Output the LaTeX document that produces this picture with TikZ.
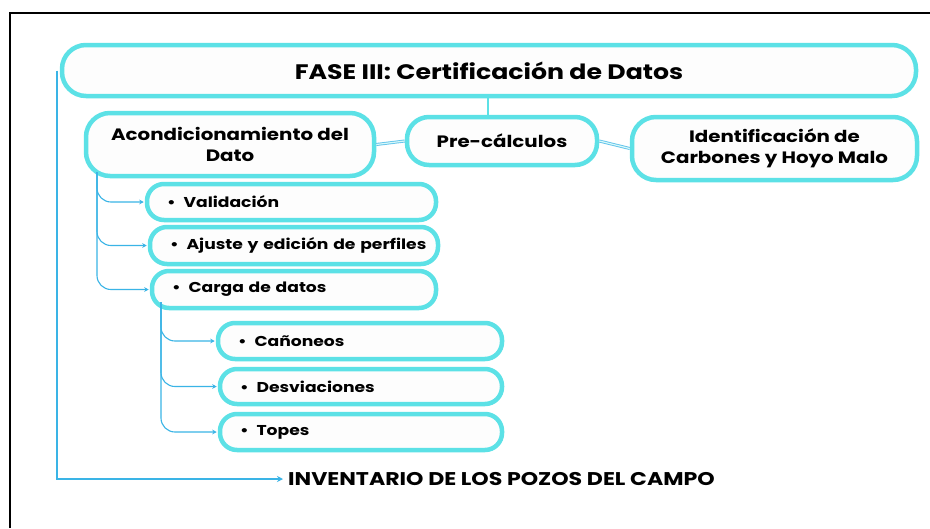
\documentclass[tikz,border=0pt]{standalone}
\usepackage{fontspec}
\setmainfont{Poppins}[FakeStretch=1.2]
\usetikzlibrary{arrows.meta}
\definecolor{boxcyan}{HTML}{5CE1E6}
\definecolor{linkblue}{HTML}{3AB4E6}
\definecolor{fillw}{HTML}{FDFDFD}
\tikzset{
  box/.style={draw=boxcyan, line width=4.5pt, fill=fillw, rounded corners=24pt,
    inner sep=0pt, font=\fontsize{16.5}{21}\selectfont\bfseries, align=center},
  item/.style={draw=boxcyan, line width=4.5pt, fill=fillw, rounded corners=17pt,
    inner sep=0pt, font=\fontsize{14.3}{17}\selectfont\bfseries, align=left},
  conn/.style={draw=linkblue, line width=1.1pt, rounded corners=14pt,
    -{Stealth[length=4.5pt,width=4.5pt]}},
  dbl/.style={draw=linkblue!80, double=boxcyan!25, double distance=1.2pt, line width=0.9pt},
}
\newcommand{\bul}[1]{\mbox{\textbullet\hspace{8pt}#1}}
\begin{document}
\begin{tikzpicture}[x=1pt,y=-1pt]
\useasboundingbox (0,0) rectangle (930,528);
\fill[white] (0,0) rectangle (930,528);
\draw[line width=2pt, black] (10,528) -- (10,13) -- (931,13);

\node[box, minimum width=854pt, minimum height=51pt, rounded corners=24pt,
  font=\fontsize{21}{25}\selectfont\bfseries] (fase) at (489,70.5) {FASE III: Certificación de Datos};
\node[box, minimum width=288pt, minimum height=63pt] (acond) at (230,144.5) {Acondicionamiento del\\Dato};
\node[box, minimum width=190pt, minimum height=48pt, rounded corners=22pt] (pre) at (502,141) {Pre-cálculos};
\node[box, minimum width=285pt, minimum height=63pt] (ident) at (774.5,148.5) {Identificación de\\Carbones y Hoyo Malo};

\node[item, minimum width=289pt, minimum height=36pt, text width=249pt] (val) at (291.5,202) {\bul{Validación}};
\node[item, minimum width=288pt, minimum height=37pt, text width=248pt] (aju) at (294,245.5) {\bul{Ajuste y edición de perfiles}};
\node[item, minimum width=284pt, minimum height=37pt, text width=244pt] (car) at (294,289.5) {\bul{Carga de datos}};
\node[item, minimum width=284pt, minimum height=36pt, text width=244pt] (can) at (360,341) {\bul{Cañoneos}};
\node[item, minimum width=282pt, minimum height=35pt, text width=242pt] (des) at (361,386.5) {\bul{Desviaciones}};
\node[item, minimum width=282pt, minimum height=36pt, text width=242pt] (top) at (361,432) {\bul{Topes}};

\node[anchor=west, inner sep=0pt, font=\fontsize{18.4}{22}\selectfont\bfseries] (inv) at (288,479) {INVENTARIO DE LOS POZOS DEL CAMPO};

% connectors
\draw[draw=boxcyan, line width=1.5pt] (fase.south -| 488,0) -- (488,0 |- pre.north);
\draw[dbl] (acond.east) -- (pre.west);
\draw[dbl] (pre.east) -- (ident.west);

\coordinate (a0) at (97,172);
\draw[conn] (a0) |- ([xshift=-1pt]val.west);
\draw[conn] (a0) |- ([xshift=-1pt]aju.west);
\draw[conn] (a0) |- ([xshift=-1pt]car.west);

\coordinate (c0) at (161,302);
\draw[conn] (c0) |- ([xshift=-1pt]can.west);
\draw[conn] (c0) |- ([xshift=-1pt]des.west);
\draw[conn] (c0) |- ([xshift=-1pt]top.west);

\draw[draw=linkblue, line width=2pt, -{Stealth[length=6pt,width=6pt]}] ([xshift=-3pt]fase.west) |- ([xshift=-5pt]inv.west);
\end{tikzpicture}
\end{document}
